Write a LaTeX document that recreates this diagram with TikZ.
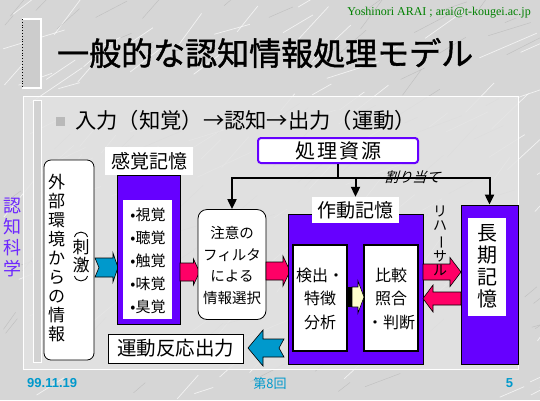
\documentclass[tikz,border=0pt]{standalone}
\usepackage{fontspec}
\usepackage{graphicx}
\usetikzlibrary{arrows.meta}
\newfontfamily\jp{Noto Sans CJK JP}
\newfontfamily\jpb[FakeBold=1.3]{Noto Sans CJK JP}
\newfontfamily\serifA{Liberation Serif}
\newfontfamily\sansA{Liberation Sans}
\newcommand\setfs[2]{\fontsize{#1}{#2}\selectfont}
\definecolor{vio}{RGB}{102,0,255}
\definecolor{vioL}{RGB}{110,40,255}
\definecolor{pinkA}{RGB}{255,0,102}
\definecolor{tealA}{RGB}{0,153,204}
\definecolor{creamA}{RGB}{255,255,204}
\definecolor{greenA}{RGB}{0,128,0}
\definecolor{marble}{RGB}{214,214,214}
\definecolor{panelc}{RGB}{226,226,226}
% right-pointing block arrow: tail x, tip x, y centre, body half, head half, head length, notch, colour
\newcommand\rarrowA[8]{%
  \draw[fill=#8,line width=0.6pt] (#1,#3-#4) -- (#2-#6,#3-#4) -- (#2-#6,#3-#5) -- (#2,#3)
   -- (#2-#6,#3+#5) -- (#2-#6,#3+#4) -- (#1,#3+#4) -- (#1+#7,#3) -- cycle;}
% left-pointing block arrow: tail x (right), tip x (left), ...
\newcommand\larrowA[8]{%
  \draw[fill=#8,line width=0.6pt] (#1,#3-#4) -- (#2+#6,#3-#4) -- (#2+#6,#3-#5) -- (#2,#3)
   -- (#2+#6,#3+#5) -- (#2+#6,#3+#4) -- (#1,#3+#4) -- (#1-#7,#3) -- cycle;}
\tikzset{
  conn/.style={line width=2pt},
  tip/.style={-{Triangle[width=9pt,length=10pt]}},
  vbox/.style={draw=black,fill=vio,inner sep=0,line width=0.8pt},
  wbox/.style={fill=white,inner sep=0},
  lab/.style={fill=white,inner sep=0,font=\jp\setfs{19}{19}},
  paren/.style={line width=0.9pt},
}
\begin{document}
\begin{tikzpicture}[x=1pt,y=-1pt]
\useasboundingbox (0,0) rectangle (540,400);
% background marble
\fill[marble] (0,0) rectangle (540,400);
\pgfmathsetseed{42}
\foreach \i in {1,...,110}{
  \pgfmathsetmacro\xa{rnd*540}
  \pgfmathsetmacro\ya{rnd*400}
  \pgfmathsetmacro\ang{-15-rnd*40}
  \pgfmathsetmacro\len{15+rnd*50}
  \draw[white,opacity=0.7,line width=0.7pt] (\xa,\ya) -- ++(\ang:\len);
}
\foreach \i in {1,...,90}{
  \pgfmathsetmacro\xa{rnd*540}
  \pgfmathsetmacro\ya{rnd*400}
  \pgfmathsetmacro\ang{-15-rnd*40}
  \pgfmathsetmacro\len{10+rnd*40}
  \draw[gray!70,opacity=0.5,line width=0.4pt] (\xa,\ya) -- ++(\ang:\len);
}
% panel
\fill[panelc,opacity=0.85] (23,96) rectangle (518,369);
\draw[white,line width=1pt] (23,96) rectangle (518,369);
\fill[gray!35] (33,100) rectangle (41,362);
\draw[white,line width=0.8pt] (33,100) rectangle (41,362);
% title bar
\fill[gray!40] (22,19) rectangle (41,88);
\draw[white,line width=1.2pt] (22,19) -- (41,19) -- (41,88) -- (22,88);
\draw[black,dotted,line width=0.8pt] (22,19) -- (22,88);
% header texts
\node[font=\serifA\setfs{12}{12},text=greenA,anchor=east,inner sep=0] (email) at (531,13) {Yoshinori ARAI ; arai@t-kougei.ac.jp};
\node[font=\jpb\setfs{32}{32},anchor=west,inner sep=0] (title) at (57,53) {一般的な認知情報処理モデル};
\node[fill=gray!55,minimum size=9pt,inner sep=0] (bsq) at (60,121) {};
\node[font=\jp\setfs{21.3}{21.3},anchor=west,inner sep=0] (bullet) at (75,120) {入力（知覚）→認知→出力（運動）};
% side label
\node[font=\jp\setfs{18}{21},text=vioL,align=center,inner sep=0] (cs) at (12,237) {認\\知\\科\\学};
% environment box
\node[draw,rounded corners=7pt,fill=white,minimum width=50,minimum height=200,line width=0.8pt,inner sep=0] (env) at (69,260) {};
\node[font=\jp\setfs{17}{19},align=center,inner sep=0] (envt) at (56.5,258) {外\\部\\環\\境\\か\\ら\\の\\情\\報};
\node[font=\jp\setfs{17}{18},align=center,inner sep=0] (stim) at (81,256.5) {刺\\激};
\draw[paren] (74.5,237) .. controls (76,230.5) and (86,230.5) .. (87.5,237);
\draw[paren] (74.5,276) .. controls (76,282.5) and (86,282.5) .. (87.5,276);
% teal input arrow
\rarrowA{95}{118}{267.5}{9.5}{14.5}{5}{4}{tealA}
% sensory memory
\node[vbox,minimum width=63,minimum height=149] (sm) at (148.5,249.5) {};
\node[wbox,minimum width=49,minimum height=119] (smin) at (147.5,259) {};
\node[font=\jp\setfs{15}{23},align=left,inner sep=0] (smt) at (148,261) {•視覚\\•聴覚\\•触覚\\•味覚\\•臭覚};
\node[lab,minimum width=88,minimum height=28] (smlab) at (149,161) {感覚記憶};
% pink arrow 1
\rarrowA{180}{199.5}{272}{9}{13}{6}{0}{pinkA}
% attention filter
\node[draw,fill=white,rounded corners=9pt,minimum width=68,minimum height=110,line width=0.8pt,inner sep=0] (attn) at (232,264.5) {};
\node[font=\jp\setfs{14.5}{21.7},align=center,inner sep=0] (attnt) at (232,265.5) {注意の\\フィルタ\\による\\情報選択};
% pink arrow 2
\rarrowA{266}{290}{271}{9}{15}{7}{0}{pinkA}
% processing resources
\node[draw=vio,line width=2pt,fill=white,rounded corners=3pt,minimum width=160,minimum height=25,inner sep=0,font=\jp\setfs{20}{20}] (res) at (338,150.5) {処\hspace{2pt}理\hspace{2pt}資\hspace{2pt}源};
% working memory
\node[vbox,minimum width=135,minimum height=150] (wm) at (355.5,289) {};
\node[lab,minimum width=87,minimum height=26] (wmlab) at (355.5,210) {作動記憶};
\node[draw,line width=1.5pt,fill=white,minimum width=54,minimum height=106,inner sep=0] (det) at (320,298) {};
\node[draw,line width=1.5pt,fill=white,minimum width=54,minimum height=106,inner sep=0] (cmp) at (391,298) {};
\node[font=\jp\setfs{16}{23.5},align=center,inner sep=0] (dett) at (320,298.5) {検出・\\特徴\\分析};
\node[font=\jp\setfs{16}{23.5},align=center,inner sep=0] (cmpt) at (391,298.5) {比較\\照合\\・判断};
\fill[black] (347,287) rectangle (352,307);
\rarrowA{352}{364}{297}{10}{16}{6}{0}{creamA}
% long-term memory
\node[vbox,minimum width=57,minimum height=159] (ltm) at (489.5,284.5) {};
\node[wbox,minimum width=38,minimum height=98] (ltmin) at (487,267) {};
\node[font=\jp\setfs{20}{22},align=center,inner sep=0] (ltmt) at (487,266) {長\\期\\記\\憶};
% rehearsal arrows
\rarrowA{423}{461}{272}{8}{14.5}{11}{0}{pinkA}
\larrowA{461}{423}{298.5}{6.5}{13.5}{10}{0}{pinkA}
\node[font=\jp\setfs{14}{14.5},align=center,inner sep=0] (reh) at (440,241) {リ\\ハ\\\rotatebox[origin=c]{-90}{ー}\\サ\\ル};
% allocation connectors
\coordinate (hl) at (0,178);
\draw[conn] (res.south) -- (res.south |- hl) coordinate (j);
\draw[conn,tip] (j) -| (attn.north);
\draw[conn,tip] (j) -| (ltm.north);
\draw[conn,tip] (wmlab.north |- hl) -- (wmlab.north);
\node[font=\jp\setfs{14}{14},xslant=0.3,inner sep=0] (alloc) at (414,177) {割り当て};
% output
\node[draw,fill=white,minimum width=135,minimum height=29,inner sep=0,line width=0.8pt,font=\jp\setfs{19.5}{19.5}] (out) at (175.5,348.5) {運動反応出力};
\larrowA{284}{248}{348}{9}{18}{15}{5}{tealA}
% footer
\node[font=\sansA\bfseries\setfs{13}{13},text=tealA,anchor=west,inner sep=0] (date) at (27,383.5) {99.11.19};
\node[font=\jp\setfs{13}{13},text=tealA,inner sep=0] (sess) at (270,383.5) {第8回};
\node[font=\sansA\bfseries\setfs{13}{13},text=tealA,inner sep=0] (page) at (509.5,383.5) {5};
\end{tikzpicture}
\end{document}
